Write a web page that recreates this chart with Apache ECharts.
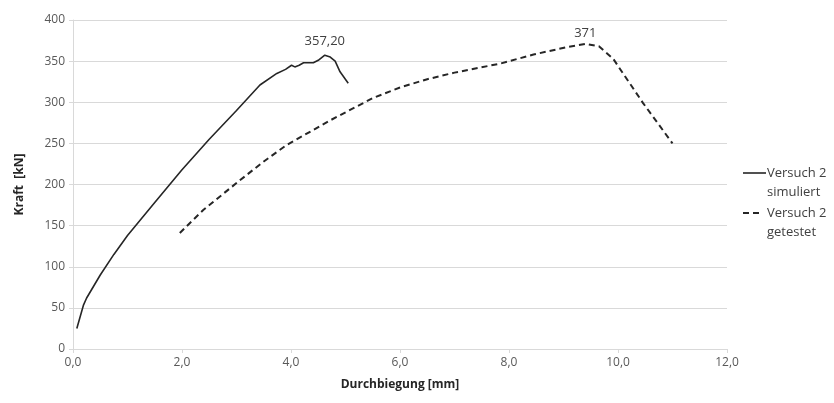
<!DOCTYPE html>
<html>
<head>
<meta charset="utf-8">
<script src="https://cdn.jsdelivr.net/npm/echarts@6/dist/echarts.min.js"></script>
<style>html,body{margin:0;padding:0;background:#fff;}#c{width:834px;height:403px;}</style>
</head>
<body>
<div id="c"></div>
<script>
// Versuch simuliert (solid)
var simX = [0.07, 0.19, 0.25, 0.5, 0.75, 1.0, 1.25, 1.5, 2.0, 2.5, 3.0, 3.43, 3.74, 3.9, 4.01, 4.07, 4.15, 4.23, 4.41, 4.5, 4.62, 4.72, 4.81, 4.9, 5.05];
var simY = [25, 53, 62, 90, 115, 138, 158, 178, 218, 255, 290, 321, 335, 340, 345, 343, 345, 348, 348, 351, 357.2, 355, 350, 337, 323];
var simPeakIndex = 20;
var simPeakLabel = '357,20';
// Versuch getestet (dashed)
var testX = [1.96, 2.39, 3.06, 3.5, 3.92, 4.72, 5.5, 6.0, 6.5, 7.0, 7.84, 8.45, 9.06, 9.4, 9.65, 9.91, 10.46, 11.0];
var testY = [141, 169, 205, 228, 248, 278, 305, 318, 328, 336, 347, 358, 367, 371, 368, 353, 299, 250];
var testPeakIndex = 13;
var testPeakLabel = '371';

var xName = 'Durchbiegung [mm]';
var yName = 'Kraft  [kN]';
var legendNames = [['Versuch 2', 'simuliert'], ['Versuch 2', 'getestet']];

function build(xs, ys, peak, label, dist) {
  return xs.map(function (x, i) {
    var item = { value: [x, ys[i]] };
    if (i === peak) {
      item.label = { show: true, position: 'top', distance: dist, formatter: label,
        color: '#404040', fontSize: 13, fontFamily: 'Open Sans' };
    }
    return item;
  });
}

var chart = echarts.init(document.getElementById('c'));
var font = 'Open Sans';
var legFont = '13px "Open Sans"';
chart.setOption({
  animation: false,
  backgroundColor: '#fff',
  grid: { left: 73, right: 107, top: 20, bottom: 54 },
  xAxis: {
    type: 'value', min: 0, max: 12, interval: 2,
    name: xName, nameLocation: 'middle', nameGap: 30,
    nameTextStyle: { fontFamily: font, fontSize: 12, fontWeight: 'bold', color: '#262626' },
    axisLine: { show: true, lineStyle: { color: '#d9d9d9', width: 1 } },
    axisTick: { show: true, length: 4, lineStyle: { color: '#d9d9d9' } },
    axisLabel: { fontFamily: font, fontSize: 12, color: '#595959', margin: 8,
      formatter: function (v) { return v.toFixed(1).replace('.', ','); } },
    splitLine: { show: false }
  },
  yAxis: {
    type: 'value', min: 0, max: 400, interval: 50,
    name: yName, nameLocation: 'middle', nameGap: 47, nameRotate: 90,
    nameTextStyle: { fontFamily: font, fontSize: 12, fontWeight: 'bold', color: '#262626' },
    axisLine: { show: true, lineStyle: { color: '#d9d9d9', width: 1 } },
    axisTick: { show: true, length: 4, lineStyle: { color: '#d9d9d9' } },
    axisLabel: { fontFamily: font, fontSize: 12, color: '#595959', margin: 8 },
    splitLine: { show: true, lineStyle: { color: '#d9d9d9', width: 1 } }
  },
  series: [
    { name: 'simuliert', type: 'line', showSymbol: true, symbol: 'circle', symbolSize: 0,
      data: build(simX, simY, simPeakIndex, simPeakLabel, 7),
      lineStyle: { color: '#262626', width: 1.6 }, itemStyle: { color: '#262626' } },
    { name: 'getestet', type: 'line', showSymbol: true, symbol: 'circle', symbolSize: 0,
      data: build(testX, testY, testPeakIndex, testPeakLabel, 4),
      lineStyle: { color: '#262626', width: 2, type: [6, 4] }, itemStyle: { color: '#262626' } }
  ],
  graphic: [
    { type: 'line', shape: { x1: 743, y1: 173, x2: 766, y2: 173 }, style: { stroke: '#262626', lineWidth: 1.6 } },
    { type: 'text', x: 767, y: 173, style: { text: legendNames[0][0], fill: '#404040', font: legFont, verticalAlign: 'middle' } },
    { type: 'text', x: 767, y: 192, style: { text: legendNames[0][1], fill: '#404040', font: legFont, verticalAlign: 'middle' } },
    { type: 'line', shape: { x1: 743, y1: 213, x2: 763, y2: 213 }, style: { stroke: '#262626', lineWidth: 2, lineDash: [6, 4] } },
    { type: 'text', x: 767, y: 213, style: { text: legendNames[1][0], fill: '#404040', font: legFont, verticalAlign: 'middle' } },
    { type: 'text', x: 767, y: 232, style: { text: legendNames[1][1], fill: '#404040', font: legFont, verticalAlign: 'middle' } }
  ]
});
</script>
</body>
</html>
